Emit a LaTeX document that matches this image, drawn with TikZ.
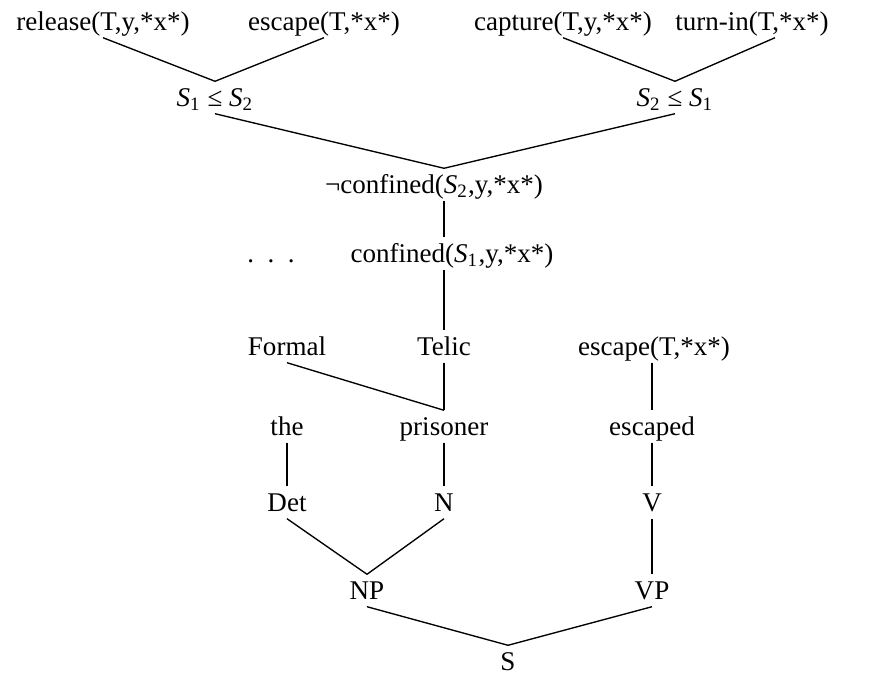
\documentclass[tikz,border=0pt]{standalone}
\usepackage{fontspec}
\setmainfont{Liberation Serif}
\usetikzlibrary{calc}

\begin{document}
\begin{tikzpicture}[x=0.37pt, y=-0.37pt,
    lbl/.style={anchor=base, inner sep=0pt, text height=8.9pt, text depth=2.6pt,
      font=\fontsize{10}{12}\selectfont},
    every path/.style={line width=0.5pt}]
  \useasboundingbox (0,0) rectangle (871,672);
  % obere Reihe: Ereignisse
  \node[lbl] (release) at (103,30) {release(T,y,*x*)};
  \node[lbl] (escapeA) at (324,30) {escape(T,*x*)};
  \node[lbl] (capture) at (563,30) {capture(T,y,*x*)};
  \node[lbl] (turnin) at (752,30) {turn-in(T,*x*)};
  % Ordnung der Zeitpunkte
  \node[lbl] (leqA) at (215,106) {\textit{S}\textsubscript{1} ≤ \textit{S}\textsubscript{2}};
  \node[lbl] (leqB) at (675,106) {\textit{S}\textsubscript{2} ≤ \textit{S}\textsubscript{1}};
  % Zustaende
  \node[lbl] (negconf) at (434,193) {¬confined(\textit{S}\textsubscript{2},y,*x*)};
  \node[lbl] (dots) at (271,262) {.\ \ .\ \ .};
  \node[lbl] (conf) at (452,262) {confined(\textit{S}\textsubscript{1},y,*x*)};
  % Qualia und Verb
  \node[lbl] (formal) at (287,355) {Formal};
  \node[lbl] (telic) at (444,355) {Telic};
  \node[lbl] (escapeB) at (654,355) {escape(T,*x*)};
  % Woerter
  \node[lbl] (the) at (287,435) {the};
  \node[lbl] (prisoner) at (444,435) {prisoner};
  \node[lbl] (escaped) at (652,435) {escaped};
  % Kategorien
  \node[lbl] (det) at (287,511) {Det};
  \node[lbl] (n) at (444,511) {N};
  \node[lbl] (v) at (652,511) {V};
  \node[lbl] (np) at (367,599) {NP};
  \node[lbl] (vp) at (652,599) {VP};
  \node[lbl, text depth=0pt] (s) at (508,670) {S};
  % Kanten oben
  \draw (release.south) -- (leqA.north);
  \draw (escapeA.south) -- (leqA.north);
  \draw (capture.south) -- (leqB.north);
  \draw ($(turnin.south)+(23,0)$) -- (leqB.north);
  \draw (leqA.south) -- (negconf.north -| telic.north);
  \draw (leqB.south) -- (negconf.north -| telic.north);
  \draw (negconf.south -| telic.north) -- (conf.north -| telic.north);
  \draw (conf.south -| telic.north) -- (telic.north);
  % Qualia an prisoner
  \draw (telic.south) -- (prisoner.north);
  \draw (formal.south) -- (prisoner.north);
  \draw (escapeB.south -| v.north) -- (escaped.north -| v.north);
  % Baum unten
  \draw (the.south) -- (det.north);
  \draw (prisoner.south) -- (n.north);
  \draw (escaped.south -| v.north) -- (v.north);
  \draw (v.south) -- (vp.north);
  \draw (det.south) -- (np.north);
  \draw (n.south) -- (np.north);
  \draw (np.south) -- (s.north);
  \draw (vp.south) -- (s.north);
\end{tikzpicture}
\end{document}
